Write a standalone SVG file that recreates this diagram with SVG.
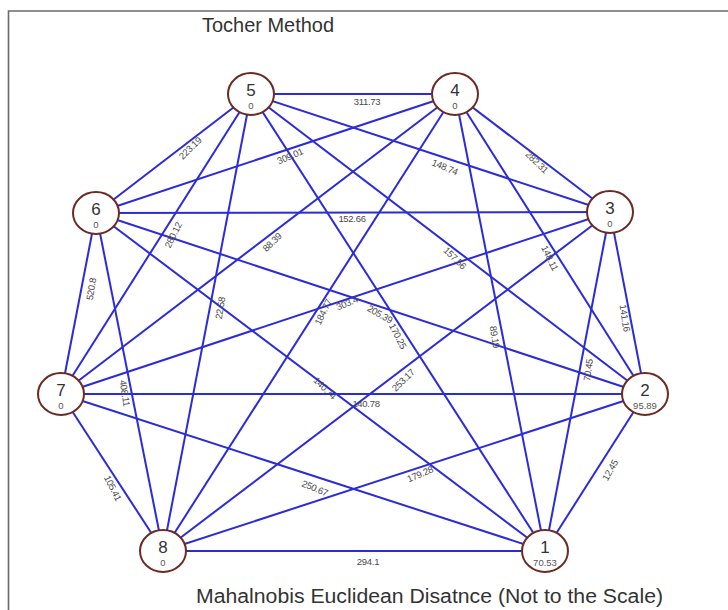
<svg xmlns="http://www.w3.org/2000/svg" width="728" height="610" viewBox="0 0 728 610">
  <style>
    .frame { stroke: #6a6a6a; stroke-width: 1.6; fill: none; }
    .edge { stroke: #2b2bd9; stroke-width: 2; }
    .node ellipse { fill: #ffffff; stroke: #6b2a22; stroke-width: 2; }
    .num { font-family: "Liberation Sans", Arial, sans-serif; font-size: 17px; fill: #333333; text-anchor: middle; }
    .val { font-family: "Liberation Sans", Arial, sans-serif; font-size: 9.5px; fill: #555555; text-anchor: middle; }
    .lbl { font-family: "Liberation Sans", Arial, sans-serif; font-size: 9.5px; fill: #4a4a4a; text-anchor: middle; dominant-baseline: central; letter-spacing: -0.3px; }
    .title { font-family: "Liberation Sans", Arial, sans-serif; font-size: 20px; fill: #333333; }
  </style>

  <rect width="728" height="610" fill="#ffffff"/>
  <!-- plot frame -->
  <path class="frame" d="M8.5 610 V11 H728"/>

  <text class="title" x="202" y="32" textLength="132" lengthAdjust="spacingAndGlyphs">Tocher Method</text>
  <text class="title" x="196" y="603" font-size="21" textLength="467" lengthAdjust="spacingAndGlyphs">Mahalnobis Euclidean Disatnce (Not to the Scale)</text>

  <!-- all pairwise distances -->
  <g id="connectors">
    <line class="edge" x1="545" y1="551" x2="645" y2="394"/>
    <line class="edge" x1="545" y1="551" x2="610" y2="212"/>
    <line class="edge" x1="545" y1="551" x2="455" y2="94"/>
    <line class="edge" x1="545" y1="551" x2="251" y2="94"/>
    <line class="edge" x1="545" y1="551" x2="96" y2="213"/>
    <line class="edge" x1="545" y1="551" x2="61" y2="394"/>
    <line class="edge" x1="545" y1="551" x2="163" y2="551"/>
    <line class="edge" x1="645" y1="394" x2="610" y2="212"/>
    <line class="edge" x1="645" y1="394" x2="455" y2="94"/>
    <line class="edge" x1="645" y1="394" x2="251" y2="94"/>
    <line class="edge" x1="645" y1="394" x2="96" y2="213"/>
    <line class="edge" x1="645" y1="394" x2="61" y2="394"/>
    <line class="edge" x1="645" y1="394" x2="163" y2="551"/>
    <line class="edge" x1="610" y1="212" x2="455" y2="94"/>
    <line class="edge" x1="610" y1="212" x2="251" y2="94"/>
    <line class="edge" x1="610" y1="212" x2="96" y2="213"/>
    <line class="edge" x1="610" y1="212" x2="61" y2="394"/>
    <line class="edge" x1="610" y1="212" x2="163" y2="551"/>
    <line class="edge" x1="455" y1="94" x2="251" y2="94"/>
    <line class="edge" x1="455" y1="94" x2="96" y2="213"/>
    <line class="edge" x1="455" y1="94" x2="61" y2="394"/>
    <line class="edge" x1="455" y1="94" x2="163" y2="551"/>
    <line class="edge" x1="251" y1="94" x2="96" y2="213"/>
    <line class="edge" x1="251" y1="94" x2="61" y2="394"/>
    <line class="edge" x1="251" y1="94" x2="163" y2="551"/>
    <line class="edge" x1="96" y1="213" x2="61" y2="394"/>
    <line class="edge" x1="96" y1="213" x2="163" y2="551"/>
    <line class="edge" x1="61" y1="394" x2="163" y2="551"/>
  </g>

  <g id="edge-labels">
    <text class="lbl" transform="translate(610 470) rotate(-60)">12.45</text>
    <text class="lbl" transform="translate(588 370) rotate(-82)">70.45</text>
    <text class="lbl" transform="translate(495 337) rotate(81)">89.19</text>
    <text class="lbl" transform="translate(398 336) rotate(63)">170.25</text>
    <text class="lbl" transform="translate(325 388) rotate(44)">140.74</text>
    <text class="lbl" transform="translate(315 488) rotate(23)">250.67</text>
    <text class="lbl" transform="translate(368 561)">294.1</text>
    <text class="lbl" transform="translate(625 318) rotate(81)">141.16</text>
    <text class="lbl" transform="translate(550 258) rotate(64)">148.11</text>
    <text class="lbl" transform="translate(455 258) rotate(44)">157.56</text>
    <text class="lbl" transform="translate(380 314) rotate(30)">205.39</text>
    <text class="lbl" transform="translate(366 403)">140.78</text>
    <text class="lbl" transform="translate(420 474) rotate(-23)">179.28</text>
    <text class="lbl" transform="translate(537 162) rotate(44)">282.31</text>
    <text class="lbl" transform="translate(445 167) rotate(23)">148.74</text>
    <text class="lbl" transform="translate(352 218)">152.66</text>
    <text class="lbl" transform="translate(347 303) rotate(-23)">303.4</text>
    <text class="lbl" transform="translate(403 380) rotate(-44)">253.17</text>
    <text class="lbl" transform="translate(367 101)">311.73</text>
    <text class="lbl" transform="translate(290 156) rotate(-23)">309.01</text>
    <text class="lbl" transform="translate(272 242) rotate(-44)">88.39</text>
    <text class="lbl" transform="translate(323 312) rotate(-64)">184.77</text>
    <text class="lbl" transform="translate(190 148) rotate(-44)">223.19</text>
    <text class="lbl" transform="translate(173 235) rotate(-64)">280.12</text>
    <text class="lbl" transform="translate(220 308) rotate(-81)">22.58</text>
    <text class="lbl" transform="translate(91 289) rotate(-81)">520.8</text>
    <text class="lbl" transform="translate(125 393) rotate(81)">408.11</text>
    <text class="lbl" transform="translate(113 488) rotate(63)">105.41</text>
  </g>

  <!-- genotype nodes: number and intra-cluster value -->
  <g id="node-1" class="node"><ellipse cx="545" cy="551" rx="23" ry="21"/><text class="num" x="545" y="553">1</text><text class="val" x="545" y="566">70.53</text></g>
  <g id="node-2" class="node"><ellipse cx="645" cy="394" rx="23" ry="21"/><text class="num" x="645" y="396">2</text><text class="val" x="645" y="409">95.89</text></g>
  <g id="node-3" class="node"><ellipse cx="610" cy="212" rx="23" ry="21"/><text class="num" x="610" y="214">3</text><text class="val" x="610" y="227">0</text></g>
  <g id="node-4" class="node"><ellipse cx="455" cy="94" rx="23" ry="21"/><text class="num" x="455" y="96">4</text><text class="val" x="455" y="109">0</text></g>
  <g id="node-5" class="node"><ellipse cx="251" cy="94" rx="23" ry="21"/><text class="num" x="251" y="96">5</text><text class="val" x="251" y="109">0</text></g>
  <g id="node-6" class="node"><ellipse cx="96" cy="213" rx="23" ry="21"/><text class="num" x="96" y="215">6</text><text class="val" x="96" y="228">0</text></g>
  <g id="node-7" class="node"><ellipse cx="61" cy="394" rx="23" ry="21"/><text class="num" x="61" y="396">7</text><text class="val" x="61" y="409">0</text></g>
  <g id="node-8" class="node"><ellipse cx="163" cy="551" rx="23" ry="21"/><text class="num" x="163" y="553">8</text><text class="val" x="163" y="566">0</text></g>
</svg>
